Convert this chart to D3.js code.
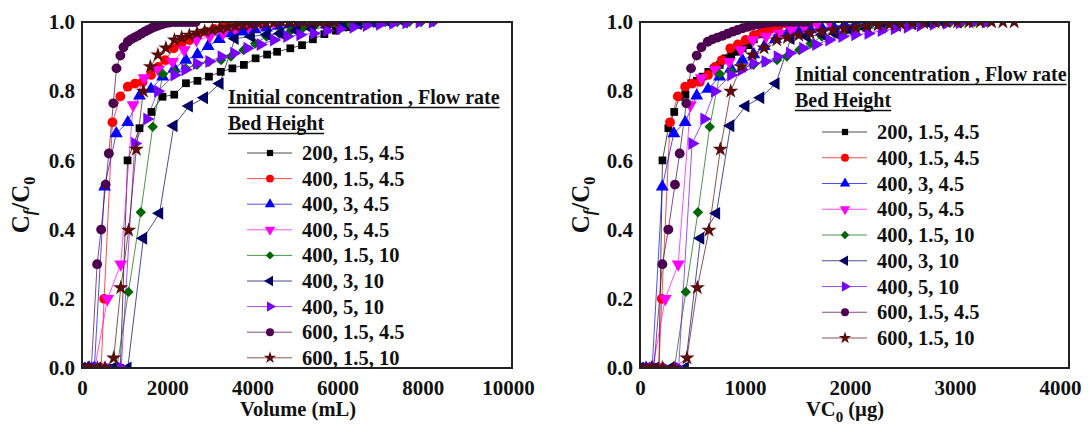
<!DOCTYPE html>
<html>
<head>
<meta charset="utf-8">
<script src="https://cdnjs.cloudflare.com/ajax/libs/d3/7.8.5/d3.min.js"></script>
<style>
  body { margin: 0; background: #fff; }
  svg text { font-family: "Liberation Serif", "Times New Roman", serif; font-weight: bold; fill: #111; }
</style>
</head>
<body>
<svg id="chart" width="1092" height="429"></svg>
<script>
// legend labels: initial concentration, flow rate, bed height
const seriesLabels = ["200, 1.5, 4.5", "400, 1.5, 4.5", "400, 3, 4.5", "400, 5, 4.5",
  "400, 1.5, 10", "400, 3, 10", "400, 5, 10", "600, 1.5, 4.5", "600, 1.5, 10"];
const initialConc = [200, 400, 400, 400, 400, 400, 400, 600, 600];
const seriesColors = ["#000000", "#ff0000", "#0000ff", "#ff00ff", "#006600",
  "#000066", "#7a00ff", "#4d0050", "#5a0c0c"];

// volumes (mL) and Cf/C0
const vol200_15_45 = [0, 180, 360, 540, 720, 900, 1070, 1350, 1630, 1890, 2165, 2440, 2710, 2980, 3255, 3530, 3800, 4075, 4345, 4580, 4890, 5165, 5420, 5690, 5960, 6230, 6500, 6780];
const cf200_15_45 = [0, 0, 0, 0, 0, 0, 0.60, 0.693, 0.74, 0.784, 0.79, 0.823, 0.83, 0.842, 0.856, 0.866, 0.876, 0.895, 0.906, 0.914, 0.924, 0.933, 0.95, 0.965, 0.975, 0.985, 0.993, 1.0];

const vol400_15_45 = [0, 120, 240, 360, 450, 520, 715, 900, 1075, 1246, 1425, 1620, 1790, 1950, 2150, 2330, 2516, 2710, 2900, 3100, 3300, 3500, 3700, 3900, 4100];
const cf400_15_45 = [0, 0, 0, 0, 0, 0.20, 0.71, 0.785, 0.813, 0.822, 0.827, 0.847, 0.87, 0.89, 0.924, 0.935, 0.948, 0.962, 0.972, 0.98, 0.988, 0.995, 1.0, 1.0, 1.0];

const vol400_3_45 = [0, 145, 290, 530, 805, 1075, 1350, 1620, 1893, 2165, 2437, 2710, 2960, 3225, 3510, 3780, 4060, 4330, 4600, 4870, 5140, 5410, 5680, 5950, 6220, 6490, 6760];
const cf400_3_45 = [0, 0, 0, 0.524, 0.678, 0.71, 0.787, 0.806, 0.842, 0.866, 0.89, 0.906, 0.93, 0.95, 0.967, 0.972, 0.978, 0.983, 0.988, 0.992, 0.995, 0.997, 1.0, 1.0, 1.0, 1.0, 1.0];

const vol400_5_45 = [0, 300, 600, 910, 1200, 1460, 1790, 2126, 2400, 2687, 3000, 3310, 3610, 3910, 4210, 4510];
const cf400_5_45 = [0, 0, 0.20, 0.30, 0.76, 0.838, 0.862, 0.885, 0.919, 0.948, 0.958, 0.967, 0.977, 0.987, 0.995, 1.0];

const vol400_15_10 = [0, 270, 540, 820, 1090, 1380, 1660, 1900, 2170, 2430, 2700, 2980, 3263, 3497, 3793, 4065, 4330, 4626, 4900, 5180, 5444, 5720, 6000, 6280, 6560, 6840, 7120, 7400, 7680, 7960, 8250];
const cf400_15_10 = [0, 0, 0, 0, 0.22, 0.45, 0.697, 0.85, 0.856, 0.866, 0.876, 0.885, 0.89, 0.90, 0.919, 0.938, 0.958, 0.967, 0.975, 0.982, 0.987, 0.99, 0.993, 0.995, 0.997, 0.998, 1.0, 1.0, 1.0, 1.0, 1.0];

const vol400_3_10 = [0, 360, 720, 1075, 1441, 1819, 2155, 2515, 2870, 3235, 3590, 3970, 4346, 4660, 5030, 5400, 5760, 6120, 6480, 6840, 7200, 7560];
const cf400_3_10 = [0, 0, 0, 0, 0.375, 0.447, 0.70, 0.757, 0.781, 0.822, 0.952, 0.958, 0.964, 0.967, 0.975, 0.98, 0.985, 0.99, 0.995, 1.0, 1.0, 1.0];

const vol400_5_10 = [0, 300, 600, 920, 1240, 1526, 1780, 2165, 2420, 2694, 2983, 3271, 3567, 3879, 4190, 4502, 4813, 5120, 5436, 5750, 6060, 6370, 6680, 6990, 7300, 7610, 7920, 8230];
const cf400_5_10 = [0, 0, 0, 0, 0.649, 0.72, 0.80, 0.847, 0.862, 0.88, 0.886, 0.90, 0.91, 0.924, 0.935, 0.948, 0.958, 0.963, 0.967, 0.975, 0.98, 0.985, 0.99, 0.993, 0.996, 0.998, 1.0, 1.0];

const vol600_15_45 = [0, 110, 220, 355, 450, 555, 630, 735, 810, 900, 975, 1075, 1150, 1230, 1310, 1390, 1470, 1550, 1630, 1710, 1790, 1870, 1950, 2030, 2110, 2190, 2270, 2350, 2430, 2510, 2590, 2670];
const cf600_15_45 = [0, 0, 0, 0.30, 0.40, 0.53, 0.62, 0.765, 0.866, 0.903, 0.927, 0.943, 0.95, 0.955, 0.96, 0.966, 0.972, 0.977, 0.982, 0.986, 0.99, 0.993, 0.996, 0.998, 1.0, 1.0, 1.0, 1.0, 1.0, 1.0, 1.0, 1.0];

const vol600_15_10 = [0, 180, 360, 540, 745, 910, 1095, 1275, 1440, 1605, 1783, 1970, 2170, 2340, 2520, 2700, 2880, 3060, 3240, 3420, 3600, 3780, 3960, 4140, 4320, 4500, 4680, 4860, 5040, 5220, 5400, 5580, 5760, 5940];
const cf600_15_10 = [0, 0, 0, 0, 0.029, 0.232, 0.398, 0.632, 0.80, 0.871, 0.905, 0.925, 0.948, 0.955, 0.962, 0.968, 0.973, 0.977, 0.981, 0.985, 0.988, 0.991, 0.993, 0.995, 0.997, 0.998, 1.0, 1.0, 1.0, 1.0, 1.0, 1.0, 1.0, 1.0];

const volumes = [vol200_15_45, vol400_15_45, vol400_3_45, vol400_5_45, vol400_15_10,
  vol400_3_10, vol400_5_10, vol600_15_45, vol600_15_10];
const ratios = [cf200_15_45, cf400_15_45, cf400_3_45, cf400_5_45, cf400_15_10,
  cf400_3_10, cf400_5_10, cf600_15_45, cf600_15_10];

const volumeTicks = [0, 2000, 4000, 6000, 8000, 10000];
const massTicks = [0, 1000, 2000, 3000, 4000];
const ratioTicks = [0, 0.2, 0.4, 0.6, 0.8, 1.0];

// marker shapes: [d3 symbol, rotation, size]
const markers = [
  [d3.symbolSquare, 0, 60], [d3.symbolCircle, 0, 76], [d3.symbolTriangle, 0, 72],
  [d3.symbolTriangle, 180, 72], [d3.symbolSquare, 45, 54], [d3.symbolTriangle, -90, 72],
  [d3.symbolTriangle, 90, 72], [d3.symbolCircle, 0, 76], [d3.symbolStar, 0, 72]
];

const series = seriesLabels.map((label, i) => ({
  label, color: seriesColors[i], marker: markers[i],
  points: volumes[i].map((v, j) => ({ v, m: v * initialConc[i] / 1000, c: ratios[i][j] }))
}));

const svg = d3.select('#chart');

function drawPanel(cfg) {
  const x = d3.scaleLinear().domain(cfg.xDomain).range([cfg.left, cfg.right]);
  const y = d3.scaleLinear().domain([0, 1]).range([368, 22]);
  const g = svg.append('g');

  const clipId = 'clip' + cfg.id;
  g.append('clipPath').attr('id', clipId).append('rect')
    .attr('x', cfg.left).attr('y', 22).attr('width', cfg.boxRight - cfg.left).attr('height', 346);

  // axes (labels only, no tick marks)
  const xAxis = g.append('g').attr('transform', 'translate(0,368)')
    .call(d3.axisBottom(x).tickValues(cfg.xTicks).tickSize(0).tickPadding(12).tickFormat(d3.format('d')));
  const yAxis = g.append('g').attr('transform', `translate(${cfg.left},0)`)
    .call(d3.axisLeft(y).tickValues(ratioTicks).tickSize(0).tickPadding(7).tickFormat(d3.format('.1f')));
  [xAxis, yAxis].forEach(a => {
    a.select('.domain').remove();
    a.selectAll('text').attr('font-size', 21).attr('font-family', '"Liberation Serif", serif')
      .attr('font-weight', 'bold').attr('fill', '#111');
  });

  const plot = g.append('g').attr('clip-path', `url(#${clipId})`);
  const line = d3.line().x(d => x(d[cfg.key])).y(d => y(d.c));

  series.forEach(s => {
    plot.append('path').datum(s.points)
      .attr('fill', 'none').attr('stroke', s.color).attr('stroke-width', 1).attr('stroke-opacity', 0.7)
      .attr('d', line);
  });
  series.forEach(s => {
    const sym = d3.symbol().type(s.marker[0]).size(s.marker[2]);
    plot.selectAll(null).data(s.points).enter().append('path')
      .attr('d', sym)
      .attr('transform', d => `translate(${x(d[cfg.key])},${y(d.c)}) rotate(${s.marker[1]})`)
      .attr('fill', s.color);
  });

  // frame
  g.append('rect').attr('x', cfg.left).attr('y', 22)
    .attr('width', cfg.boxRight - cfg.left).attr('height', 346)
    .attr('fill', 'none').attr('stroke', '#222').attr('stroke-width', 2);

  // legend
  const lg = g.append('g');
  const heads = [['Initial concentration , Flow rate', cfg.legTitleY], ['Bed Height', cfg.legTitleY + 26]];
  heads.forEach(h => {
    const t = lg.append('text').attr('x', cfg.legTitleX).attr('y', h[1]).attr('font-size', 20).text(h[0]);
    const w = t.node().getComputedTextLength();
    lg.append('line').attr('x1', cfg.legTitleX).attr('x2', cfg.legTitleX + w)
      .attr('y1', h[1] + 3.5).attr('y2', h[1] + 3.5).attr('stroke', '#111').attr('stroke-width', 1.5);
  });
  series.forEach((s, i) => {
    const cy = cfg.legRowY + i * cfg.legStep;
    lg.append('line').attr('x1', cfg.legLineX).attr('x2', cfg.legLineX + 45)
      .attr('y1', cy).attr('y2', cy).attr('stroke', s.color).attr('stroke-width', 1).attr('stroke-opacity', 0.7);
    lg.append('path').attr('d', d3.symbol().type(s.marker[0]).size(s.marker[2] * 0.65))
      .attr('transform', `translate(${cfg.legLineX + 23},${cy}) rotate(${s.marker[1]})`)
      .attr('fill', s.color);
    lg.append('text').attr('x', cfg.legLineX + 55).attr('y', cy + 7).attr('font-size', 20.5).text(s.label);
  });

  // axis titles
  const yt = g.append('text').attr('font-size', 25)
    .attr('transform', `translate(${cfg.yTitleX},205) rotate(-90)`).attr('text-anchor', 'middle');
  yt.append('tspan').text('C');
  yt.append('tspan').attr('font-size', 16).attr('font-style', 'italic').attr('dy', 6).text('f');
  yt.append('tspan').attr('dy', -6).text('/C');
  yt.append('tspan').attr('font-size', 16).attr('dy', 6).text('0');

  const xt = g.append('text').attr('font-size', 20.5).attr('x', cfg.xTitleX).attr('y', 416)
    .attr('text-anchor', 'middle');
  cfg.xTitle(xt);
}

drawPanel({
  id: 'a', key: 'v', xDomain: [0, 10000], left: 82, right: 508, boxRight: 512, xTicks: volumeTicks,
  legTitleX: 228, legTitleY: 104, legRowY: 153, legStep: 25.6, legLineX: 247,
  yTitleX: 29, xTitleX: 298,
  xTitle: t => t.text('Volume (mL)')
});

drawPanel({
  id: 'b', key: 'm', xDomain: [0, 4000], left: 640, right: 1060, boxRight: 1069, xTicks: massTicks,
  legTitleX: 795, legTitleY: 81, legRowY: 132, legStep: 25.75, legLineX: 822,
  yTitleX: 589, xTitleX: 845,
  xTitle: t => {
    t.append('tspan').text('VC');
    t.append('tspan').attr('font-size', 15).attr('dy', 6).text('0');
    t.append('tspan').attr('dy', -6).text(' (µg)');
  }
});
</script>
</body>
</html>
